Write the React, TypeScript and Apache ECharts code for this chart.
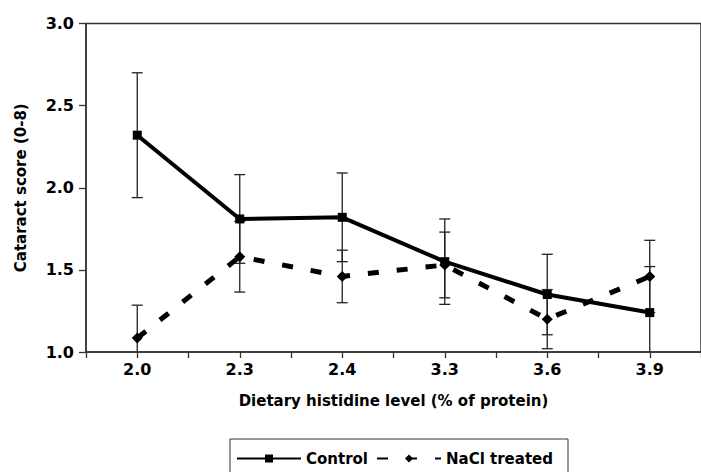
import React, { useEffect, useRef } from "react";
import * as echarts from "echarts";

const categories = ["2.0", "2.3", "2.4", "3.3", "3.6", "3.9"];
const controlMean = [2.32, 1.81, 1.82, 1.55, 1.35, 1.24];
const controlErr = [0.38, 0.27, 0.27, 0.26, 0.245, 0.28];
const naclMean = [1.085, 1.58, 1.46, 1.53, 1.2, 1.46];
const naclErr = [0.2, 0.215, 0.16, 0.2, 0.18, 0.22];
const yTicks = { min: 1, max: 3, interval: 0.5 };

const FONT = "DejaVu Sans";

function errorData(mean: number[], err: number[]) {
  return mean.map((m, i) => [i, m - err[i], m + err[i]]);
}

function errorRender(params: any, api: any) {
  const x = api.value(0);
  let lo = api.value(1);
  const hi = api.value(2);
  let loCap = true;
  if (lo < yTicks.min) {
    lo = yTicks.min;
    loCap = false;
  }
  const pHi = api.coord([x, hi]);
  const pLo = api.coord([x, lo]);
  const w = 5.5;
  const style = { stroke: "#222", lineWidth: 1.3 };
  const children: any[] = [
    { type: "line", shape: { x1: pHi[0], y1: pHi[1], x2: pLo[0], y2: pLo[1] }, style },
    { type: "line", shape: { x1: pHi[0] - w, y1: pHi[1], x2: pHi[0] + w, y2: pHi[1] }, style },
  ];
  if (loCap) {
    children.push({ type: "line", shape: { x1: pLo[0] - w, y1: pLo[1], x2: pLo[0] + w, y2: pLo[1] }, style });
  }
  return { type: "group", children };
}

export default function App() {
  const ref = useRef<HTMLDivElement>(null);
  useEffect(() => {
    if (!ref.current) return;
    const chart = echarts.init(ref.current, undefined, { renderer: "svg" });
    const axisColor = "#333";
    chart.setOption({
      animation: false,
      backgroundColor: "#fff",
      grid: {
        left: 86,
        top: 23.5,
        width: 624,
        height: 328.5,
        show: true,
        borderColor: axisColor,
        borderWidth: 1.5,
        backgroundColor: "transparent",
      },
      legend: {
        left: 230,
        top: 439,
        data: ["Control", "NaCl treated"],
        borderColor: "#333",
        borderWidth: 1,
        padding: [12, 15, 12, 6],
        itemGap: 8,
        itemWidth: 64,
        itemHeight: 10,
        textStyle: { fontFamily: FONT, fontWeight: "bold", fontSize: 15, color: "#000" },
      },
      xAxis: [
        {
          type: "category",
          data: categories,
          boundaryGap: true,
          axisLine: { lineStyle: { color: axisColor, width: 1.5 } },
          axisTick: { show: true, length: 6, alignWithLabel: false, lineStyle: { color: axisColor, width: 1.3 } },
          axisLabel: { margin: 9, fontFamily: FONT, fontWeight: "bold", fontSize: 16, color: "#000" },
          name: "Dietary histidine level (% of protein)",
          nameLocation: "middle",
          nameGap: 41,
          nameTextStyle: { fontFamily: FONT, fontWeight: "bold", fontSize: 15, color: "#000" },
          splitLine: { show: false },
        },
        {
          type: "category",
          data: categories,
          position: "bottom",
          boundaryGap: true,
          axisLine: { show: false },
          axisTick: { show: true, length: 6, alignWithLabel: true, lineStyle: { color: axisColor, width: 1.3 } },
          axisLabel: { show: false },
          splitLine: { show: false },
        },
      ],
      yAxis: {
        type: "value",
        min: yTicks.min,
        max: yTicks.max,
        interval: yTicks.interval,
        axisLine: { show: true, lineStyle: { color: axisColor, width: 1.5 } },
        axisTick: { show: true, length: 7, lineStyle: { color: axisColor, width: 1.3 } },
        axisLabel: {
          margin: 12,
          fontFamily: FONT,
          fontWeight: "bold",
          fontSize: 16,
          color: "#000",
          formatter: (v: number) => v.toFixed(1),
        },
        splitLine: { show: false },
        name: "Cataract score (0-8)",
        nameLocation: "middle",
        nameGap: 58,
        nameTextStyle: { fontFamily: FONT, fontWeight: "bold", fontSize: 15, color: "#000" },
      },
      series: [
        {
          type: "custom",
          name: "controlErr",
          renderItem: errorRender,
          data: errorData(controlMean, controlErr),
          encode: { x: 0, y: [1, 2] },
          z: 1,
        },
        {
          type: "custom",
          name: "naclErr",
          renderItem: errorRender,
          data: errorData(naclMean, naclErr),
          encode: { x: 0, y: [1, 2] },
          z: 1,
        },
        {
          type: "line",
          name: "Control",
          data: controlMean,
          symbol: "rect",
          symbolSize: 9,
          lineStyle: { color: "#000", width: 4 },
          itemStyle: { color: "#000" },
          z: 3,
        },
        {
          type: "line",
          name: "NaCl treated",
          data: naclMean,
          symbol: "diamond",
          symbolSize: 11,
          lineStyle: { color: "#000", width: 5, type: [11, 18] },
          itemStyle: { color: "#000" },
          z: 2,
        },
      ],
    });
    return () => chart.dispose();
  }, []);
  return <div ref={ref} style={{ position: "absolute", left: 0, top: 0, width: 701, height: 472 }} />;
}
